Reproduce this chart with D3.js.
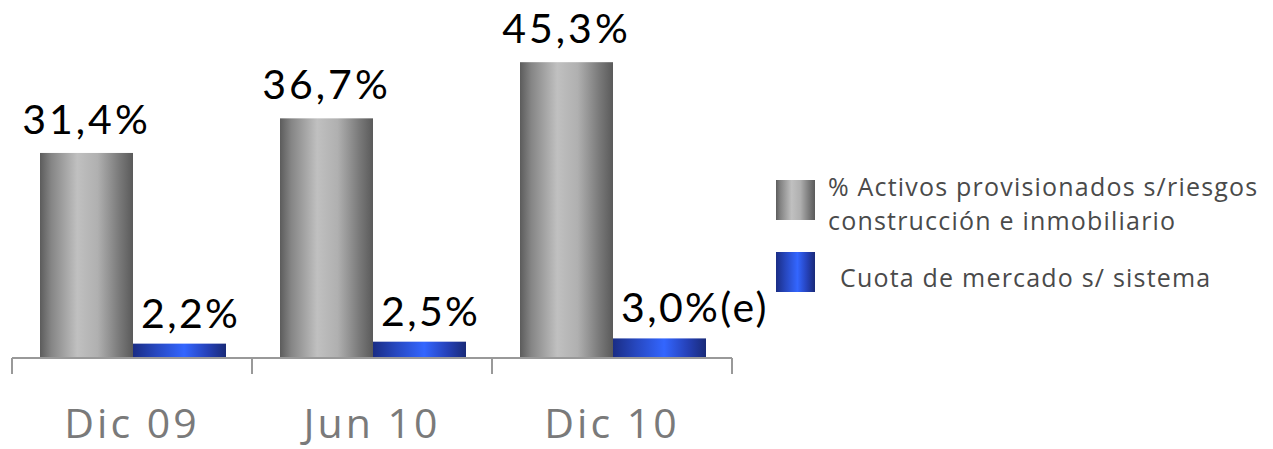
<!DOCTYPE html>
<html>
<head>
<meta charset="utf-8">
<script src="https://cdn.jsdelivr.net/npm/d3@7"></script>
<style>
  html, body { margin: 0; padding: 0; background: #fff; }
  svg { display: block; }
</style>
</head>
<body>
<svg id="chart" width="1273" height="449"></svg>
<script>
const categories = ["Dic 09", "Jun 10", "Dic 10"];
const seriesNames = ["% Activos provisionados s/riesgos construcción e inmobiliario", "Cuota de mercado s/ sistema"];
const activosValues = [31.4, 36.7, 45.3];
const cuotaValues = [2.2, 2.5, 3.0];
const activosLabels = ["31,4%", "36,7%", "45,3%"];
const cuotaLabels = ["2,2%", "2,5%", "3,0%(e)"];
const legendLines = [["% Activos provisionados s/riesgos", "construcción e inmobiliario"], ["Cuota de mercado s/ sistema"]];

const svg = d3.select("#chart");
const defs = svg.append("defs");

function hGrad(id, stops) {
  const g = defs.append("linearGradient").attr("id", id)
    .attr("x1", "0%").attr("x2", "100%").attr("y1", "0%").attr("y2", "0%");
  stops.forEach(s => g.append("stop").attr("offset", s[0]).attr("stop-color", s[1]));
}
hGrad("gGray", [["0%", "#5c5c5c"], ["12%", "#858585"], ["40%", "#c0c0c0"], ["62%", "#b0b0b0"], ["85%", "#7a7a7a"], ["100%", "#5a5a5a"]]);
hGrad("gBlue", [["0%", "#1a2d85"], ["25%", "#2748c0"], ["55%", "#3366ff"], ["80%", "#2541b8"], ["100%", "#192a78"]]);

const x0 = d3.scaleBand().domain(categories).range([12, 732]).padding(0);
const x1 = d3.scaleBand().domain(seriesNames).range([28, 214]).padding(0);
const y = d3.scaleLinear().domain([0, 50]).range([358, 31.5]);

const data = categories.map((c, i) => ({
  cat: c,
  vals: [
    { s: seriesNames[0], v: activosValues[i], label: activosLabels[i], fill: "url(#gGray)" },
    { s: seriesNames[1], v: cuotaValues[i], label: cuotaLabels[i], fill: "url(#gBlue)" }
  ]
}));

const groups = svg.append("g").selectAll("g").data(data).join("g")
  .attr("transform", d => `translate(${x0(d.cat)},0)`);

groups.selectAll("rect").data(d => d.vals).join("rect")
  .attr("x", d => x1(d.s))
  .attr("width", x1.bandwidth())
  .attr("y", d => y(d.v))
  .attr("height", d => y(0) - y(d.v))
  .attr("fill", d => d.fill);

// value labels
groups.selectAll("text.val").data(d => d.vals).join("text")
  .attr("class", "val")
  .attr("x", (d, i) => i === 0 ? x1(d.s) + x1.bandwidth() / 2 : x1(d.s) + 8)
  .attr("y", (d, i) => y(d.v) - (i === 0 ? 19 : 16))
  .attr("text-anchor", (d, i) => i === 0 ? "middle" : "start")
  .attr("font-family", "Lato, sans-serif")
  .attr("font-size", 41)
  .attr("letter-spacing", (d, i) => i === 0 ? 3 : 2.4)
  .attr("fill", "#000")
  .text(d => d.label);

// axis
const axis = d3.axisBottom(x0).tickSize(16).tickSizeOuter(0).tickFormat("");
const axG = svg.append("g").attr("transform", `translate(0,${y(0)})`).call(axis);
axG.select(".domain").attr("stroke", "#999").attr("stroke-width", 2).attr("d", "M12,0H732");
axG.selectAll(".tick").remove();
const tickPos = [12, ...categories.map(c => x0(c) + x0.bandwidth())];
axG.selectAll("line.t").data(tickPos).join("line")
  .attr("class", "t")
  .attr("x1", d => d).attr("x2", d => d)
  .attr("y1", 0).attr("y2", 16)
  .attr("stroke", "#999").attr("stroke-width", 2);

// category labels
svg.append("g").selectAll("text").data(categories).join("text")
  .attr("x", d => x0(d) + x0.bandwidth() / 2)
  .attr("y", 438)
  .attr("text-anchor", "middle")
  .attr("font-family", "'Open Sans', sans-serif")
  .attr("font-size", 41)
  .attr("letter-spacing", 3)
  .attr("fill", "#7a7a7a")
  .text(d => d);

// legend
const legend = svg.append("g");
const legendY = [180, 252];
const legendFill = ["url(#gGray)", "url(#gBlue)"];
const legendTextX = [828, 840];
const legendBase = [[195.5, 230], [287]];
legendLines.forEach((lines, i) => {
  legend.append("rect").attr("x", 776).attr("y", legendY[i]).attr("width", 39).attr("height", 40)
    .attr("fill", legendFill[i]);
  lines.forEach((ln, j) => {
    legend.append("text")
      .attr("x", legendTextX[i]).attr("y", legendBase[i][j])
      .attr("font-family", "'Open Sans', sans-serif")
      .attr("font-size", 25)
      .attr("letter-spacing", 1.2)
      .attr("fill", "#4a4a4a")
      .text(ln);
  });
});
</script>
</body>
</html>
